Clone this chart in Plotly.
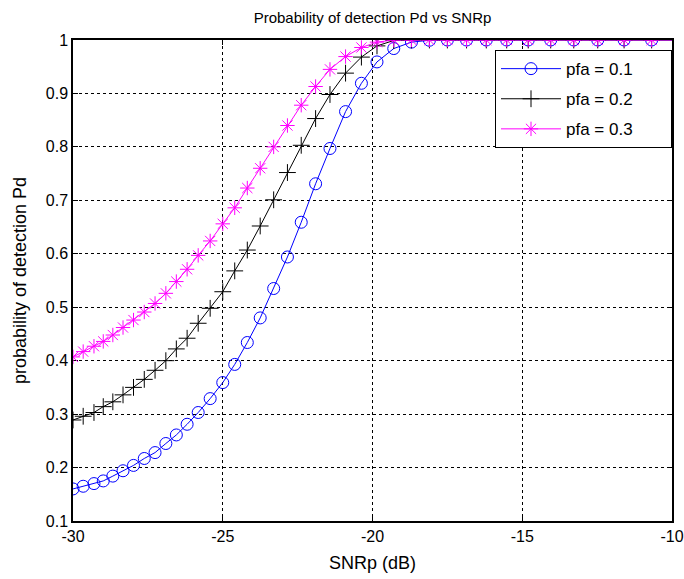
import plotly.graph_objects as go

snr_db = [-30.0, -29.66, -29.3, -28.99, -28.67, -28.33, -27.98, -27.62, -27.26, -26.9,
          -26.55, -26.19, -25.82, -25.42, -25.0, -24.6, -24.18, -23.75, -23.3, -22.84,
          -22.38, -21.9, -21.42, -20.9, -20.37, -19.85, -19.29, -18.7, -18.1, -17.5,
          -16.86, -16.2, -15.52, -14.8, -14.05, -13.28, -12.48, -11.6, -10.68, -9.72]

pd_01 = [0.160, 0.165, 0.170, 0.175, 0.184, 0.194, 0.204, 0.217, 0.228, 0.245,
         0.261, 0.281, 0.303, 0.329, 0.359, 0.393, 0.434, 0.480, 0.535, 0.594,
         0.659, 0.731, 0.797, 0.866, 0.919, 0.959, 0.984, 0.996, 0.9995, 1.0,
         1.0, 1.0, 1.0, 1.0, 1.0, 1.0, 1.0, 1.0, 1.0, 1.0]

pd_02 = [0.289, 0.296, 0.303, 0.314, 0.323, 0.336, 0.350, 0.365, 0.382, 0.400,
         0.422, 0.442, 0.470, 0.498, 0.529, 0.568, 0.607, 0.652, 0.701, 0.752,
         0.803, 0.853, 0.898, 0.938, 0.968, 0.989, 0.999, 1.0, 1.0, 1.0,
         1.0, 1.0, 1.0, 1.0, 1.0, 1.0, 1.0, 1.0, 1.0, 1.0]

pd_03 = [0.407, 0.417, 0.427, 0.436, 0.448, 0.462, 0.476, 0.491, 0.507, 0.526,
         0.548, 0.571, 0.597, 0.624, 0.656, 0.686, 0.723, 0.760, 0.800, 0.840,
         0.878, 0.913, 0.945, 0.969, 0.986, 0.996, 1.0, 1.0, 1.0, 1.0,
         1.0, 1.0, 1.0, 1.0, 1.0, 1.0, 1.0, 1.0, 1.0, 1.0]

series_names = ["pfa = 0.1", "pfa = 0.2", "pfa = 0.3"]
x_ticks = [-30, -25, -20, -15, -10]
x_tick_text = ["-30", "-25", "-20", "-15", "-10"]
y_ticks = [0.1, 0.2, 0.3, 0.4, 0.5, 0.6, 0.7, 0.8, 0.9, 1.0]
y_tick_text = ["0.1", "0.2", "0.3", "0.4", "0.5", "0.6", "0.7", "0.8", "0.9", "1"]

FONT = "Arial, Liberation Sans, sans-serif"
PAD = "\u00a0" * 7

fig = go.Figure()
styles = [
    ("#0000FF", "circle-open", 12),
    ("#000000", "cross-thin-open", 12),
    ("#FF00FF", "asterisk-open", 12),
]
for i, (ys, name) in enumerate(zip([pd_01, pd_02, pd_03], series_names)):
    col, sym, sz = styles[i]
    fig.add_trace(go.Scatter(
        x=snr_db, y=ys, name=name + PAD, mode="lines+markers",
        line=dict(color=col, width=1),
        marker=dict(symbol=sym, size=sz, color=col, line=dict(color=col, width=1)),
        legendgroup="g%d" % i,
    ))

axis_common = dict(
    showline=True, linecolor="black", linewidth=1.5, mirror="ticks",
    ticks="inside", ticklen=5, tickcolor="black",
    showgrid=True, gridcolor="black", griddash="dot", gridwidth=1,
    zeroline=False, tickfont=dict(family=FONT, size=16, color="black"),
    layer="below traces", automargin=False,
)

fig.update_xaxes(range=[-30, -10], tickvals=x_ticks, ticktext=x_tick_text,
                 title=dict(text="SNRp (dB)", font=dict(family=FONT, size=18, color="black"), standoff=12),
                 **axis_common)
fig.update_yaxes(range=[0.1, 1.0], tickvals=y_ticks, ticktext=y_tick_text,
                 title=dict(text="probability of detection Pd", font=dict(family=FONT, size=18, color="black"), standoff=14),
                 **axis_common)

fig.update_layout(
    width=684, height=579,
    margin=dict(l=73, r=12, t=40, b=58, autoexpand=False),
    paper_bgcolor="white", plot_bgcolor="white",
    font=dict(family=FONT, color="black"),
    title=dict(text="Probability of detection Pd vs SNRp", x=(73 + 672) / 2 / 684, xanchor="center",
               y=1 - 18 / 579, yanchor="middle", yref="container",
               font=dict(family=FONT, size=15, color="black")),
    legend=dict(x=1.0, y=0.979, xanchor="right", yanchor="top",
                bgcolor="white", bordercolor="black", borderwidth=1,
                font=dict(family=FONT, size=17, color="black"),
                itemwidth=60, tracegroupgap=5, traceorder="grouped"),
    showlegend=True,
)

fig.write_html("out.html")
